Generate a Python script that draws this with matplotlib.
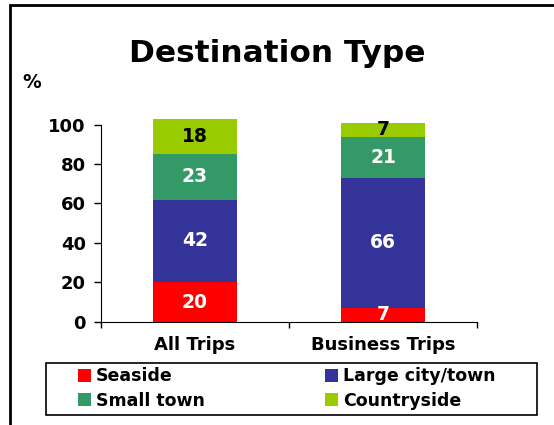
import matplotlib.pyplot as plt
from matplotlib.patches import Rectangle

categories = ['All Trips', 'Business Trips']
series = ['Seaside', 'Large city/town', 'Small town', 'Countryside']
seaside = [20, 7]
large_city = [42, 66]
small_town = [23, 21]
countryside = [18, 7]

colors = ['#FF0000', '#333399', '#339966', '#99CC00']
label_colors = ['white', 'white', 'white', 'black']

plt.rcParams['font.family'] = 'DejaVu Sans'
plt.rcParams['font.weight'] = 'bold'

fig = plt.figure(figsize=(5.54, 4.25), dpi=100)
ax = fig.add_axes([0.1823, 0.243, 0.861 - 0.1823, 0.51])

x = list(range(len(categories)))
bottom = [0, 0]
handles = []
for name, vals, c, lc in zip(series, [seaside, large_city, small_town, countryside], colors, label_colors):
    bars = ax.bar(x, vals, bottom=bottom, width=0.45, color=c, label=name, clip_on=False)
    handles.append(bars)
    for xi, b, v in zip(x, bottom, vals):
        ax.text(xi, b + v / 2, str(v), ha='center', va='center', color=lc,
                fontsize=13.5, fontweight='bold')
    bottom = [b + v for b, v in zip(bottom, vals)]

ax.set_xlim(-0.5, 1.5)
ax.set_ylim(0, 110)
ax.spines['top'].set_visible(False)
ax.spines['right'].set_visible(False)
ax.spines['left'].set_bounds(0, 100)
ax.set_yticks(range(0, 101, 20))
ax.tick_params(axis='y', length=5, width=1, labelsize=13, pad=6)
ax.set_xticks(x)
ax.set_xticklabels(categories, fontsize=13, fontweight='bold')
ax.set_xticks([-0.5, 0.5, 1.5], minor=True)
ax.tick_params(axis='x', which='major', length=0, pad=10)
ax.tick_params(axis='x', which='minor', length=4, width=1)
for lab in ax.get_yticklabels():
    lab.set_fontweight('bold')

fig.text(0.5, 0.873, 'Destination Type', ha='center', va='center',
         fontsize=22.5, fontweight='bold')
fig.text(0.04, 0.807, '%', ha='left', va='center', fontsize=13.5, fontweight='bold')

# outer frame, runs past the right and bottom edges
fig.patches.append(Rectangle((10 / 554, -0.1), 1.2, 1 - 5 / 425 + 0.1,
                             transform=fig.transFigure, fill=False,
                             edgecolor='black', linewidth=2))

# legend box and its two columns
fig.patches.append(Rectangle((46 / 554, 1 - 415 / 425), 491 / 554, 52 / 425,
                             transform=fig.transFigure, fill=False,
                             edgecolor='black', linewidth=1.2))
leg_kw = dict(loc='center left', frameon=False, handlelength=0.75, handleheight=0.75,
              handletextpad=0.3, borderpad=0, borderaxespad=0, labelspacing=0.35,
              prop={'size': 12.5, 'weight': 'bold'})
leg1 = fig.legend([handles[0], handles[2]], [series[0], series[2]],
                  bbox_to_anchor=(78 / 554, 1 - 388.5 / 425), **leg_kw)
leg2 = fig.legend([handles[1], handles[3]], [series[1], series[3]],
                  bbox_to_anchor=(325 / 554, 1 - 388.5 / 425), **leg_kw)

fig.savefig('out.png', dpi=100)
